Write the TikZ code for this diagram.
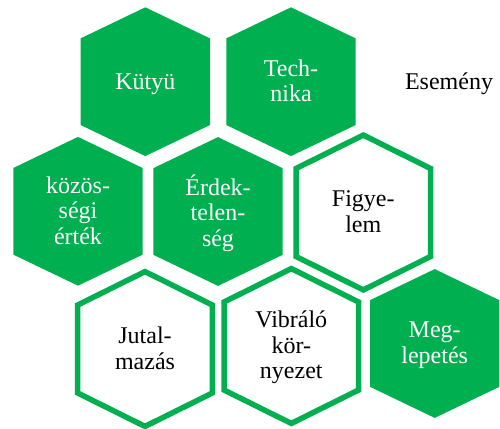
\documentclass[tikz,border=0pt]{standalone}
\usepackage{fontspec}
\setmainfont{Liberation Serif}
\definecolor{cellgreen}{HTML}{00B050}

\tikzset{
  x=1pt, y=-1pt,
  % solid cell: green fill, no outline
  pics/solidcell/.style={code={
    \fill[cellgreen] (0,-74.4) -- (64.7,-43.3) -- (64.7,43.3) -- (0,74.4)
      -- (-64.7,43.3) -- (-64.7,-43.3) -- cycle;}},
  % open cell: thick green outline on white
  pics/opencell/.style={code={
    \draw[cellgreen, line width=5.5pt, line join=miter, fill=white]
      (0,-77.4) -- (67.3,-44) -- (67.3,44) -- (0,77.4)
      -- (-67.3,44) -- (-67.3,-44) -- cycle;}},
  celltext/.style={align=center, inner sep=0pt, yshift=-2.9pt,
    font=\fontsize{24}{25.5}\selectfont,
    execute at begin node=\strut, execute at end node=\strut},
  ontext/.style={celltext, text=white},
  offtext/.style={celltext, text=black},
}

\begin{document}
\begin{tikzpicture}
\useasboundingbox (0,0) rectangle (500,428);
\clip (0,0) rectangle (500,428);

% top row
\pic at (145.3,81.7) {solidcell};
\node[ontext] (kutyu) at (145.3,81.7) {Kütyü};
\pic at (291,81.7) {solidcell};
\node[ontext] (technika) at (291,81.7) {Tech-\\nika};
\node[offtext] (esemeny) at (449,81.7) {Esemény};

% middle row
\pic at (78,211.3) {solidcell};
\node[ontext] (kozossegi) at (78,211.3) {közös-\\ségi\\érték};
\pic at (218,211.5) {solidcell};
\node[ontext] (erdektelen) at (218,211.5) {Érdek-\\telen-\\ség};
\pic at (363.3,212.5) {opencell};
\node[offtext] (figyelem) at (363.3,212.5) {Figye-\\lem};

% bottom row
\pic at (145,349) {opencell};
\node[offtext] (jutalmazas) at (145,349) {Jutal-\\mazás};
\pic at (291.3,346) {opencell};
\node[offtext] (vibralo) at (291.3,346) {Vibráló\\kör-\\nyezet};
\pic at (434.7,343.5) {solidcell};
\node[ontext] (meglepetes) at (434.7,343.5) {Meg-\\lepetés};
\end{tikzpicture}
\end{document}
